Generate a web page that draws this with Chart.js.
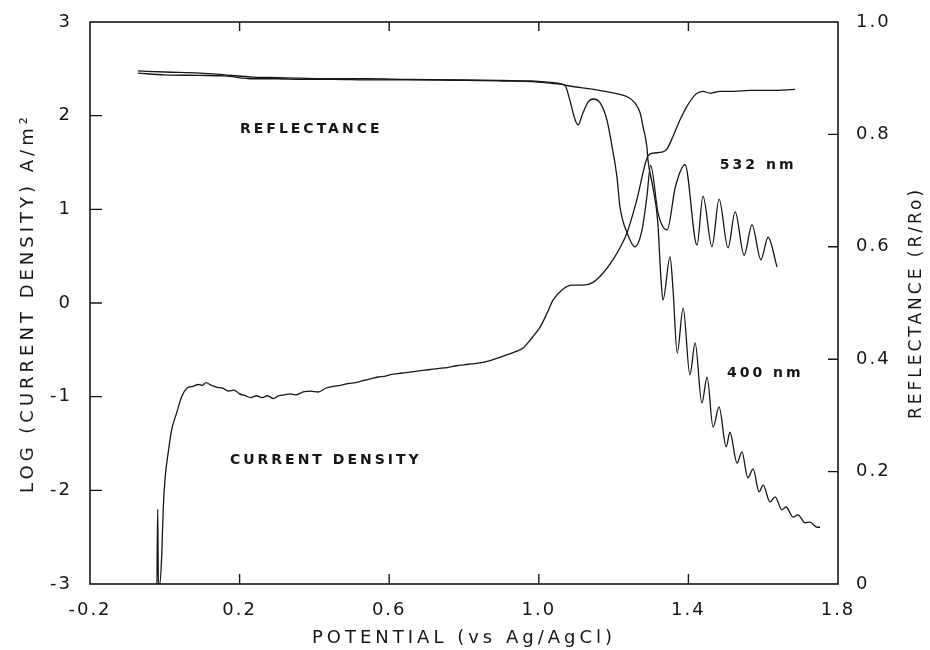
<!DOCTYPE html>
<html>
<head>
<meta charset="utf-8">
<script src="https://cdn.jsdelivr.net/npm/chart.js@4"></script>
<style>
  html, body { margin: 0; padding: 0; background: #fff; }
  #wrap { width: 930px; height: 650px; }
</style>
</head>
<body>
<div id="wrap"><canvas id="chart"></canvas></div>
<script>
// potential (V vs Ag/AgCl) and log current density (A/m2)
var currentX = [-0.021, -0.019, -0.017, -0.013, -0.008, -0.004, 0.001, 0.009, 0.018, 0.032, 0.045, 0.059, 0.075, 0.09, 0.10, 0.11, 0.125, 0.14, 0.155, 0.17, 0.185, 0.20, 0.215, 0.23, 0.245, 0.26, 0.275, 0.29, 0.305, 0.32, 0.335, 0.35, 0.37, 0.39, 0.41, 0.43, 0.45, 0.47, 0.49, 0.51, 0.53, 0.55, 0.57, 0.59, 0.61, 0.63, 0.65, 0.67, 0.69, 0.71, 0.73, 0.755, 0.78, 0.80, 0.82, 0.843, 0.865, 0.888, 0.91, 0.931, 0.958, 0.984, 1.003, 1.022, 1.038, 1.062, 1.089, 1.118, 1.145, 1.172, 1.198, 1.217, 1.236, 1.262, 1.292, 1.305, 1.329, 1.342, 1.359, 1.377, 1.396, 1.42, 1.439, 1.458, 1.471, 1.484, 1.52, 1.565, 1.62, 1.685];
var currentY = [-3.0, -2.2, -3.0, -3.0, -2.67, -2.18, -1.86, -1.60, -1.36, -1.17, -1.00, -0.91, -0.89, -0.87, -0.88, -0.85, -0.88, -0.90, -0.91, -0.94, -0.93, -0.97, -0.99, -1.01, -0.99, -1.01, -0.99, -1.02, -0.99, -0.98, -0.97, -0.98, -0.95, -0.94, -0.95, -0.91, -0.89, -0.88, -0.86, -0.85, -0.83, -0.81, -0.79, -0.78, -0.76, -0.75, -0.74, -0.73, -0.72, -0.71, -0.70, -0.69, -0.67, -0.66, -0.65, -0.64, -0.62, -0.59, -0.56, -0.53, -0.48, -0.36, -0.26, -0.11, 0.03, 0.14, 0.19, 0.19, 0.22, 0.32, 0.46, 0.59, 0.75, 1.10, 1.57, 1.60, 1.61, 1.64, 1.78, 1.95, 2.10, 2.23, 2.26, 2.24, 2.25, 2.26, 2.26, 2.27, 2.27, 2.28];

// reflectance R/Ro at 532 nm
var r532X = [-0.072, 0.0, 0.094, 0.16, 0.236, 0.30, 0.361, 0.45, 0.541, 0.65, 0.803, 0.90, 0.982, 1.051, 1.070, 1.083, 1.097, 1.105, 1.118, 1.132, 1.145, 1.164, 1.182, 1.196, 1.209, 1.217, 1.236, 1.257, 1.276, 1.289, 1.299, 1.319, 1.343, 1.365, 1.391, 1.423, 1.439, 1.463, 1.482, 1.506, 1.525, 1.549, 1.570, 1.594, 1.613, 1.637];
var r532Y = [0.909, 0.906, 0.905, 0.904, 0.899, 0.899, 0.898, 0.898, 0.897, 0.897, 0.896, 0.895, 0.894, 0.890, 0.887, 0.861, 0.826, 0.817, 0.838, 0.858, 0.863, 0.856, 0.826, 0.778, 0.724, 0.671, 0.625, 0.600, 0.630, 0.689, 0.745, 0.660, 0.630, 0.706, 0.746, 0.603, 0.690, 0.600, 0.685, 0.598, 0.662, 0.585, 0.639, 0.577, 0.617, 0.564];

// reflectance R/Ro at 400 nm
var r400X = [-0.072, 0.0, 0.094, 0.16, 0.236, 0.30, 0.361, 0.45, 0.541, 0.65, 0.803, 0.90, 0.982, 1.051, 1.075, 1.137, 1.198, 1.236, 1.257, 1.271, 1.279, 1.289, 1.292, 1.305, 1.318, 1.326, 1.332, 1.351, 1.359, 1.370, 1.386, 1.404, 1.418, 1.436, 1.450, 1.466, 1.482, 1.501, 1.511, 1.530, 1.543, 1.559, 1.573, 1.589, 1.600, 1.618, 1.632, 1.650, 1.661, 1.680, 1.693, 1.712, 1.725, 1.744, 1.752];
var r400Y = [0.913, 0.911, 0.909, 0.906, 0.902, 0.901, 0.900, 0.899, 0.899, 0.898, 0.897, 0.896, 0.895, 0.891, 0.887, 0.881, 0.874, 0.867, 0.856, 0.838, 0.813, 0.778, 0.754, 0.706, 0.645, 0.550, 0.505, 0.582, 0.523, 0.411, 0.491, 0.372, 0.429, 0.322, 0.368, 0.279, 0.315, 0.244, 0.270, 0.215, 0.235, 0.189, 0.205, 0.164, 0.176, 0.146, 0.155, 0.132, 0.137, 0.119, 0.123, 0.109, 0.110, 0.101, 0.101];

var xTicks = [-0.2, 0.2, 0.6, 1.0, 1.4, 1.8];
var xTickLabels = ['-0.2', '0.2', '0.6', '1.0', '1.4', '1.8'];
var yTicks = [-3, -2, -1, 0, 1, 2, 3];
var yTickLabels = ['-3', '-2', '-1', '0', '1', '2', '3'];
var rTicks = [0, 0.2, 0.4, 0.6, 0.8, 1.0];
var rTickLabels = ['0', '0.2', '0.4', '0.6', '0.8', '1.0'];

// text written inside the plot, anchored in data units of the left axis
var notes = [
  { text: 'REFLECTANCE', x: 0.201, y: 1.85 },
  { text: 'CURRENT DENSITY', x: 0.174, y: -1.68 },
  { text: '532 nm', x: 1.484, y: 1.47 },
  { text: '400 nm', x: 1.503, y: -0.75 }
];

var xTitle = 'POTENTIAL (vs Ag/AgCl)';
var yTitle = 'LOG (CURRENT DENSITY) A/m\u00B2';
var rTitle = 'REFLECTANCE (R/Ro)';

function pts(xs, ys) {
  return xs.map(function (x, i) { return { x: x, y: ys[i] }; });
}

var ink = '#161616';
var fontName = '"DejaVu Sans", sans-serif';

var paperLook = {
  id: 'paperLook',
  beforeDraw: function (chart) {
    chart.ctx.letterSpacing = '2px';
  },
  afterDraw: function (chart) {
    var ctx = chart.ctx, a = chart.chartArea;
    var sx = chart.scales.x, sy = chart.scales.y, sr = chart.scales.y1;
    var midY = (a.top + a.bottom) / 2;
    ctx.save();
    ctx.strokeStyle = ink;
    ctx.lineWidth = 1.6;
    ctx.strokeRect(a.left, a.top, a.right - a.left, a.bottom - a.top);
    ctx.lineWidth = 1.4;
    ctx.beginPath();
    xTicks.slice(1, -1).forEach(function (v) {
      var p = sx.getPixelForValue(v);
      ctx.moveTo(p, a.bottom); ctx.lineTo(p, a.bottom - 10);
      ctx.moveTo(p, a.top); ctx.lineTo(p, a.top + 9);
    });
    yTicks.slice(1, -1).forEach(function (v) {
      var p = sy.getPixelForValue(v);
      ctx.moveTo(a.left, p); ctx.lineTo(a.left + 12, p);
    });
    rTicks.slice(1, -1).forEach(function (v) {
      var p = sr.getPixelForValue(v);
      ctx.moveTo(a.right, p); ctx.lineTo(a.right - 10, p);
    });
    ctx.stroke();

    ctx.fillStyle = ink;
    ctx.letterSpacing = '3px';
    ctx.font = 'bold 14px ' + fontName;
    ctx.textAlign = 'left';
    ctx.textBaseline = 'middle';
    notes.forEach(function (n) {
      ctx.fillText(n.text, sx.getPixelForValue(n.x), sy.getPixelForValue(n.y));
    });

    // axis titles, both vertical ones read bottom to top
    ctx.textAlign = 'center';
    ctx.letterSpacing = '4px';
    ctx.font = '18px ' + fontName;
    ctx.fillText(xTitle, (a.left + a.right) / 2, 638);

    ctx.save();
    ctx.translate(28, midY);
    ctx.rotate(-Math.PI / 2);
    ctx.fillText(yTitle, 0, 0);
    ctx.restore();

    ctx.letterSpacing = '3px';
    ctx.font = '17px ' + fontName;
    ctx.translate(917, midY);
    ctx.rotate(-Math.PI / 2);
    ctx.fillText(rTitle, 0, 0);
    ctx.restore();
  }
};

var line = {
  borderColor: ink,
  borderWidth: 1.3,
  pointRadius: 0,
  fill: false,
  cubicInterpolationMode: 'monotone'
};

var ctx = document.getElementById('chart').getContext('2d');
var myChart = new Chart(ctx, {
  type: 'line',
  data: {
    datasets: [
      Object.assign({ label: 'current density', data: pts(currentX, currentY), yAxisID: 'y' }, line),
      Object.assign({ label: '532 nm', data: pts(r532X, r532Y), yAxisID: 'y1' }, line),
      Object.assign({ label: '400 nm', data: pts(r400X, r400Y), yAxisID: 'y1' }, line)
    ]
  },
  options: {
    responsive: true,
    maintainAspectRatio: false,
    animation: false,
    layout: { padding: { top: 22, left: 0, right: 0, bottom: 0 } },
    plugins: { legend: { display: false }, tooltip: { enabled: false } },
    scales: {
      x: {
        type: 'linear', min: -0.2, max: 1.8,
        grid: { display: false }, border: { display: false },
        afterBuildTicks: function (s) { s.ticks = xTicks.map(function (v) { return { value: v }; }); },
        afterFit: function (s) { s.height = 66; },
        ticks: {
          color: ink, padding: 8, maxRotation: 0, autoSkip: false,
          font: { family: fontName, size: 18 },
          callback: function (v) { return xTickLabels[xTicks.indexOf(v)]; }
        }
      },
      y: {
        type: 'linear', position: 'left', min: -3, max: 3,
        grid: { display: false }, border: { display: false },
        afterBuildTicks: function (s) { s.ticks = yTicks.map(function (v) { return { value: v }; }); },
        afterFit: function (s) { s.width = 90; },
        ticks: {
          color: ink, padding: 10, autoSkip: false,
          font: { family: fontName, size: 18 },
          callback: function (v) { return yTickLabels[yTicks.indexOf(v)]; }
        }
      },
      y1: {
        type: 'linear', position: 'right', min: 0, max: 1,
        grid: { display: false }, border: { display: false },
        afterBuildTicks: function (s) { s.ticks = rTicks.map(function (v) { return { value: v }; }); },
        afterFit: function (s) { s.width = 92; },
        ticks: {
          color: ink, padding: 10, autoSkip: false,
          font: { family: fontName, size: 18 },
          callback: function (v) { return rTickLabels[rTicks.indexOf(v)]; }
        }
      }
    }
  },
  plugins: [paperLook]
});
</script>
</body>
</html>
